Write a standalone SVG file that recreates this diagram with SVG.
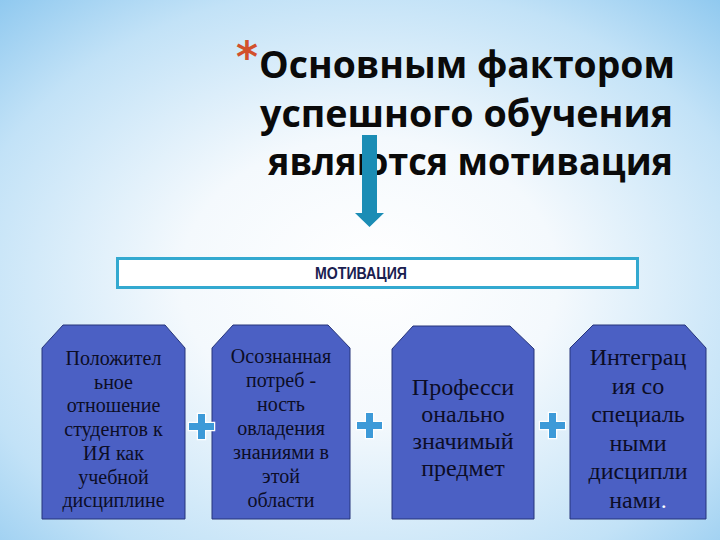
<svg xmlns="http://www.w3.org/2000/svg" width="720" height="540" viewBox="0 0 720 540">
<defs>
<radialGradient id="bg" cx="0.5" cy="0.55" r="0.75" fx="0.52" fy="0.5">
<stop offset="0" stop-color="#ffffff"/>
<stop offset="0.35" stop-color="#f4f9fd"/>
<stop offset="0.75" stop-color="#c2e2f7"/>
<stop offset="1" stop-color="#8ec8ef"/>
</radialGradient>
<style>
.title{font-family:"Open Sans","DejaVu Sans",sans-serif;font-weight:bold;font-size:37px;fill:#0a0a0a;text-anchor:end}
.card{fill:#4b60c4;stroke:#27357a;stroke-width:1}
.ct{font-family:"Liberation Serif","Times New Roman",serif;fill:#0c0d26;text-anchor:middle}
.s20{font-size:20px}
.s24{font-size:24px}
.plus{fill:#3d9ad8;stroke:#ffffff;stroke-width:2.5;paint-order:stroke}
</style>
</defs>
<rect width="720" height="540" fill="url(#bg)"/>
<g id="title">
<text x="236" y="72" style="font-family:'DejaVu Sans',sans-serif;font-weight:bold;font-size:42px;fill:#d2502c">*</text>
<text class="title" x="675" y="78" textLength="416" lengthAdjust="spacingAndGlyphs">Основным фактором</text>
<text class="title" x="673" y="127" textLength="413" lengthAdjust="spacingAndGlyphs">успешного обучения</text>
<text class="title" x="673" y="175" textLength="405" lengthAdjust="spacingAndGlyphs">являются мотивация</text>
</g>
<g id="connectors">
<path d="M362 135 H377 V213 H384 L369.5 227 L355 213 H362 Z" fill="#1b8db5"/>
</g>
<g id="motivation">
<rect x="117.5" y="258.5" width="520" height="29" fill="#ffffff" stroke="#33a9d0" stroke-width="3"/>
<text x="361" y="279" textLength="92" lengthAdjust="spacingAndGlyphs" style="font-family:'Liberation Sans',Arial,sans-serif;font-weight:bold;font-size:16px;fill:#1a2050;text-anchor:middle">МОТИВАЦИЯ</text>
</g>
<g id="card1">
<path class="card" d="M63 325 H165 L185 348 V519 H42 V348 Z"/>
<text class="ct s20" x="113.5" y="365">Положител</text>
<text class="ct s20" x="113.5" y="388.7">ьное</text>
<text class="ct s20" x="113.5" y="412.4">отношение</text>
<text class="ct s20" x="113.5" y="436.1">студентов к</text>
<text class="ct s20" x="113.5" y="459.8">ИЯ как</text>
<text class="ct s20" x="113.5" y="483.5">учебной</text>
<text class="ct s20" x="113.5" y="507.2">дисциплине</text>
</g>
<g id="card2">
<path class="card" d="M233 325 H328 L350 348 V519 H212 V348 Z"/>
<text class="ct s20" x="281" y="363">Осознанная</text>
<text class="ct s20" x="281" y="387">потреб -</text>
<text class="ct s20" x="281" y="411">ность</text>
<text class="ct s20" x="281" y="435">овладения</text>
<text class="ct s20" x="281" y="459">знаниями в</text>
<text class="ct s20" x="281" y="483">этой</text>
<text class="ct s20" x="281" y="507">области</text>
</g>
<g id="card3">
<path class="card" d="M413 326 H510 L534 349 V519 H392 V349 Z"/>
<text class="ct s24" x="463" y="395">Професси</text>
<text class="ct s24" x="463" y="422">онально</text>
<text class="ct s24" x="463" y="449">значимый</text>
<text class="ct s24" x="463" y="476">предмет</text>
</g>
<g id="card4">
<path class="card" d="M593 325 H685 L706 348 V519 H570 V348 Z"/>
<text class="ct s24" x="638" y="365">Интеграц</text>
<text class="ct s24" x="638" y="393.5">ия со</text>
<text class="ct s24" x="638" y="422">специаль</text>
<text class="ct s24" x="638" y="450.5">ными</text>
<text class="ct s24" x="638" y="479">дисципли</text>
<text class="ct s24" x="638" y="507.5">нами<tspan fill="#ffffff">.</tspan></text>
</g>
<g id="plus1"><path class="plus" d="M198 414 H205 V423 H214 V430 H205 V439 H198 V430 H189 V423 H198 Z"/></g>
<g id="plus2"><path class="plus" d="M366 413 H373 V422 H382 V429 H373 V438 H366 V429 H357 V422 H366 Z"/></g>
<g id="plus3"><path class="plus" d="M549 413 H556 V422 H565 V429 H556 V438 H549 V429 H540 V422 H549 Z"/></g>
</svg>
